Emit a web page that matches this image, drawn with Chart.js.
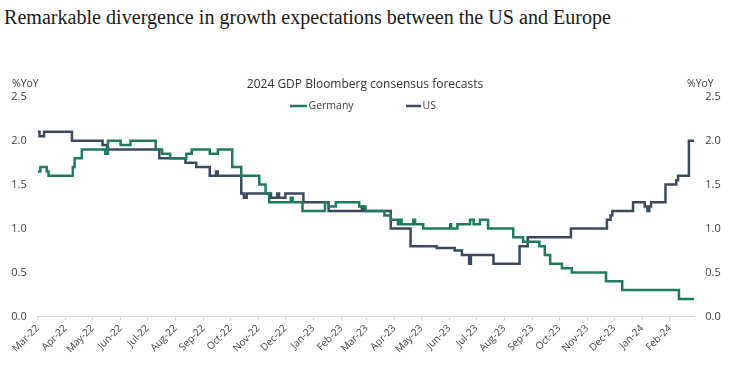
<!DOCTYPE html>
<html><head><meta charset="utf-8">
<script src="https://cdn.jsdelivr.net/npm/chart.js@4/dist/chart.umd.min.js"></script>
<style>
html,body{margin:0;padding:0;background:#fff;}
#wrap{position:relative;width:739px;height:365px;overflow:hidden;background:#fff;}
#title{position:absolute;left:4px;top:6px;font-family:'Liberation Serif','DejaVu Serif',serif;font-size:20.5px;line-height:22px;color:#1a1a1a;white-space:nowrap;transform-origin:0 0;}
canvas{position:absolute;left:0;top:0;}
</style></head><body>
<div id="wrap">
<div id="title">Remarkable divergence in growth expectations between the US and Europe</div>
<canvas id="c" width="739" height="365"></canvas>
</div>
<script>
// ---- data ----
const xTickLabels = ['Mar-22','Apr-22','May-22','Jun-22','Jul-22','Aug-22','Sep-22','Oct-22','Nov-22','Dec-22','Jan-23','Feb-23','Mar-23','Apr-23','May-23','Jun-23','Jul-23','Aug-23','Sep-23','Oct-23','Nov-23','Dec-23','Jan-24','Feb-24'];
const yTickValues = [0, 0.5, 1.0, 1.5, 2.0, 2.5];

const germanyDates = ['2022-03-01','2022-03-04','2022-03-11','2022-03-13','2022-04-09','2022-04-11','2022-04-19','2022-05-15','2022-05-18','2022-06-01','2022-06-12','2022-07-10','2022-07-17','2022-07-26','2022-08-13','2022-08-19','2022-09-08','2022-09-17','2022-10-03','2022-10-13','2022-11-02','2022-11-09','2022-11-13','2022-12-07','2022-12-09','2022-12-20','2023-01-14','2023-01-18','2023-01-26','2023-02-21','2023-02-28','2023-03-21','2023-03-28','2023-04-05','2023-04-07','2023-04-09','2023-04-22','2023-04-24','2023-05-03','2023-06-02','2023-06-03','2023-06-10','2023-06-24','2023-06-28','2023-07-05','2023-07-14','2023-08-11','2023-08-22','2023-09-09','2023-09-15','2023-09-21','2023-10-04','2023-10-15','2023-11-22','2023-12-10','2024-02-11','2024-02-28'];
const germanyValues = [1.65,1.70,1.65,1.60,1.70,1.80,1.90,1.85,2.00,1.95,2.00,1.90,1.85,1.80,1.85,1.90,1.85,1.90,1.70,1.60,1.50,1.40,1.30,1.35,1.30,1.20,1.30,1.25,1.30,1.25,1.20,1.15,1.10,1.05,1.10,1.05,1.10,1.05,1.00,1.05,1.00,1.05,1.10,1.05,1.10,1.00,0.90,0.85,0.80,0.70,0.60,0.55,0.50,0.40,0.30,0.20,0.20];

const usDates = ['2022-03-01','2022-03-03','2022-03-08','2022-04-08','2022-05-12','2022-05-17','2022-07-14','2022-08-12','2022-08-24','2022-09-08','2022-09-15','2022-09-17','2022-10-13','2022-10-16','2022-10-19','2022-11-15','2022-11-22','2022-11-24','2022-12-01','2022-12-21','2023-01-18','2023-02-24','2023-02-26','2023-03-28','2023-04-19','2023-05-18','2023-06-07','2023-06-15','2023-06-23','2023-06-25','2023-07-20','2023-08-18','2023-08-27','2023-10-14','2023-11-23','2023-11-27','2023-11-29','2023-12-22','2024-01-04','2024-01-07','2024-01-09','2024-01-11','2024-01-27','2024-02-08','2024-02-10','2024-02-22','2024-02-28'];
const usValues = [2.10,2.05,2.10,2.00,1.95,1.90,1.80,1.75,1.70,1.60,1.65,1.60,1.40,1.35,1.40,1.35,1.40,1.35,1.40,1.30,1.20,1.25,1.20,1.00,0.80,0.78,0.75,0.70,0.60,0.70,0.60,0.80,0.90,1.00,1.10,1.15,1.20,1.30,1.25,1.20,1.25,1.30,1.50,1.55,1.60,2.00,2.00];

const seriesNames = ['Germany', 'US'];
const seriesColors = ['#1f7a60', '#3b4a5c'];

// ---- helpers ----
const DAY0 = Date.UTC(2022, 2, 1);
function dayOf(s) { const p = s.split('-').map(Number); return (Date.UTC(p[0], p[1] - 1, p[2]) - DAY0) / 86400000; }
const MONTHS = {Jan:0,Feb:1,Mar:2,Apr:3,May:4,Jun:5,Jul:6,Aug:7,Sep:8,Oct:9,Nov:10,Dec:11};
function labelDay(l) { const [m, y] = l.split('-'); return (Date.UTC(2000 + Number(y), MONTHS[m], 1) - DAY0) / 86400000; }
const tickPositions = xTickLabels.map(labelDay);
const toPoints = (dates, vals) => dates.map((d, i) => ({x: dayOf(d), y: vals[i]}));
const xMax = Math.max(dayOf(germanyDates[germanyDates.length - 1]), dayOf(usDates[usDates.length - 1]));

// title fit
const t = document.getElementById('title');
const w = t.getBoundingClientRect().width;
t.style.transform = 'scaleX(' + (607 / w) + ')';

const SANS = "'Open Sans', 'Noto Sans', sans-serif";
const TXT = '#404040';

const overlay = {
  id: 'overlay',
  afterDraw(chart) {
    const ctx = chart.ctx;
    ctx.save();
    ctx.fillStyle = '#333';
    ctx.textBaseline = 'middle';
    ctx.font = "12px " + SANS;
    ctx.textAlign = 'center';
    ctx.fillText('2024 GDP Bloomberg consensus forecasts', 365, 85);
    // legend
    ctx.font = "10.5px " + SANS;
    ctx.textAlign = 'left';
    const items = [{x: 290, len: 17}, {x: 406, len: 15}];
    items.forEach((it, i) => {
      ctx.strokeStyle = seriesColors[i];
      ctx.lineWidth = 2.5;
      ctx.beginPath(); ctx.moveTo(it.x, 106); ctx.lineTo(it.x + it.len, 106); ctx.stroke();
      ctx.fillStyle = TXT;
      ctx.fillText(seriesNames[i], it.x + it.len + 1.5, 106.5);
    });
    // axis unit labels
    ctx.fillStyle = TXT;
    ctx.textAlign = 'left';
    ctx.fillText('%YoY', 12, 84.5);
    ctx.fillText('%YoY', 687, 84.5);
    ctx.restore();
  }
};

const commonY = {
  type: 'linear', min: 0, max: 2.5,
  afterBuildTicks: s => { s.ticks = yTickValues.map(v => ({value: v})); },
  grid: {display: false, drawTicks: false},
  border: {display: false},
  ticks: {color: TXT, font: {family: SANS, size: 11}, padding: 11, callback: v => Number(v).toFixed(1)}
};

new Chart(document.getElementById('c'), {
  type: 'line',
  data: {
    datasets: [
      {label: seriesNames[0], data: toPoints(germanyDates, germanyValues), borderColor: seriesColors[0], backgroundColor: seriesColors[0], borderWidth: 2.5, pointRadius: 0, stepped: true, yAxisID: 'y'},
      {label: seriesNames[1], data: toPoints(usDates, usValues), borderColor: seriesColors[1], backgroundColor: seriesColors[1], borderWidth: 2.5, pointRadius: 0, stepped: true, yAxisID: 'y'}
    ]
  },
  options: {
    responsive: false, animation: false, devicePixelRatio: 1,
    layout: {padding: {top: 96.7, left: 0, right: 0, bottom: 0}},
    plugins: {legend: {display: false}, title: {display: false}, tooltip: {enabled: false}},
    scales: {
      x: {
        type: 'linear', min: 0, max: xMax,
        afterBuildTicks: s => { s.ticks = tickPositions.map(v => ({value: v})); },
        afterFit: s => { s.height = 48.5; },
        grid: {drawOnChartArea: false, drawTicks: true, tickLength: 4, color: '#d9d9d9'},
        border: {display: true, color: '#d9d9d9', width: 1},
        ticks: {autoSkip: false, minRotation: 45, maxRotation: 45, padding: 2, color: TXT, font: {family: SANS, size: 10},
          callback: v => { const i = tickPositions.indexOf(v); return i >= 0 ? xTickLabels[i] : ''; }}
      },
      y: Object.assign({}, commonY, {position: 'left', afterFit: s => { s.width = 37.7; }}),
      y1: Object.assign({}, commonY, {position: 'right', afterFit: s => { s.width = 739 - 694.3; }})
    }
  },
  plugins: [overlay]
});
</script>
</body></html>
